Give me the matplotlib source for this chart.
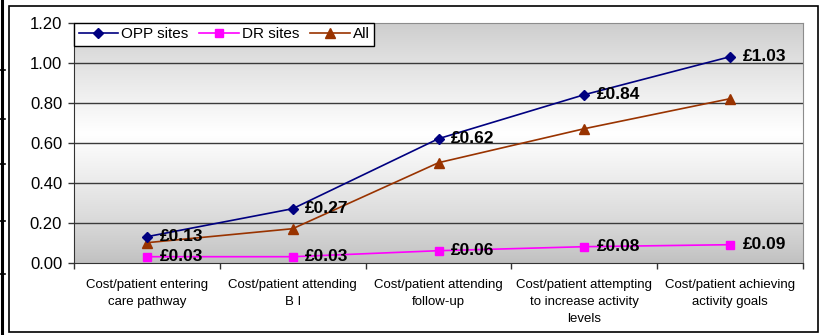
import numpy as np
import matplotlib
matplotlib.use("Agg")
import matplotlib.pyplot as plt
from matplotlib.patches import Rectangle
from matplotlib.lines import Line2D

plt.rcParams['font.family'] = ['Liberation Sans', 'DejaVu Sans']

categories = ['Cost/patient entering\ncare pathway',
              'Cost/patient attending\nB I',
              'Cost/patient attending\nfollow-up',
              'Cost/patient attempting\nto increase activity\nlevels',
              'Cost/patient achieving\nactivity goals']
opp_sites = [0.13, 0.27, 0.62, 0.84, 1.03]
dr_sites = [0.03, 0.03, 0.06, 0.08, 0.09]
all_sites = [0.10, 0.17, 0.50, 0.67, 0.82]
yticks = [0.0, 0.2, 0.4, 0.6, 0.8, 1.0, 1.2]

W, H = 821, 335
fig = plt.figure(figsize=(W / 100, H / 100), dpi=100)
ax = fig.add_axes([74 / W, 1 - 262.7 / H, (803 - 74) / W, 240 / H])

x = np.arange(len(categories))
ax.set_xlim(-0.5, len(categories) - 0.5)
ax.set_ylim(0, 1.2)

# grey -> white -> grey fill behind the plot
t = np.linspace(0, 1, 300)
shade = 0.75 + 0.25 * (1 - np.abs(t - 0.46) / 0.54) ** 0.8
grad = np.clip(shade, 0, 1)[:, None]
ax.imshow(np.repeat(grad[:, :, None], 3, axis=2), extent=(-0.5, 4.5, 0, 1.2),
          aspect='auto', origin='upper', zorder=0, interpolation='bilinear')

for y in yticks[1:-1]:
    ax.axhline(y, color='#3a3a3a', lw=1.0, zorder=1)

ax.plot(x, opp_sites, color='#000080', marker='D', markersize=5.5, lw=1.2,
        label='OPP sites', zorder=4)
ax.plot(x, dr_sites, color='#ff00ff', marker='s', markersize=5.5, lw=1.2,
        label='DR sites', zorder=4)
ax.plot(x, all_sites, color='#993300', marker='^', markersize=7, lw=1.2,
        label='All', zorder=3)

for xi, v in zip(x, opp_sites):
    ax.annotate(f'£{v:.2f}', (xi, v), xytext=(9, 0), textcoords='offset points',
                ha='left', va='center', fontsize=12.5, fontweight='bold', zorder=5)
for xi, v in zip(x, dr_sites):
    ax.annotate(f'£{v:.2f}', (xi, v), xytext=(9, 0), textcoords='offset points',
                ha='left', va='center', fontsize=12.5, fontweight='bold', zorder=5)

ax.set_yticks(yticks)
ax.set_yticklabels([f'{v:.2f}' for v in yticks], fontsize=12)
ax.set_xticks(x)
ax.set_xticklabels(categories, fontsize=9.5, linespacing=1.55)
ax.set_xticks(np.arange(-0.5, len(categories)), minor=True)
ax.tick_params(axis='x', which='major', length=0, pad=12)
ax.tick_params(axis='x', which='minor', length=4, width=1, color='#333333')
ax.tick_params(axis='y', length=4.5, width=1, color='#333333', pad=4)

for side in ['top', 'right']:
    ax.spines[side].set_color('#8c8c8c')
for side in ['left', 'bottom']:
    ax.spines[side].set_color('#333333')

leg = ax.legend(loc='upper left', bbox_to_anchor=(0, 1), borderaxespad=0,
                ncol=3, fontsize=11, handlelength=2.6, handletextpad=0.2,
                columnspacing=0.7, borderpad=0.3, fancybox=False, framealpha=1,
                edgecolor='black')
leg.get_frame().set_linewidth(1.0)
leg.set_zorder(6)

# outer chart border
fig.add_artist(Rectangle((9 / W, 1 - 331.5 / H), (818 - 9) / W, (331.5 - 5.5) / H,
                         transform=fig.transFigure, fill=False, edgecolor='black', lw=1.2))
# table rule along the left edge
fig.add_artist(Line2D([1.5 / W, 1.5 / W], [0, 1], transform=fig.transFigure,
                      color='black', lw=2.2))
for yy in [70, 119, 164, 221, 274]:
    fig.add_artist(Line2D([0, 5 / W], [1 - yy / H, 1 - yy / H], transform=fig.transFigure,
                          color='black', lw=1.2))

fig.savefig('out.png', dpi=100)
